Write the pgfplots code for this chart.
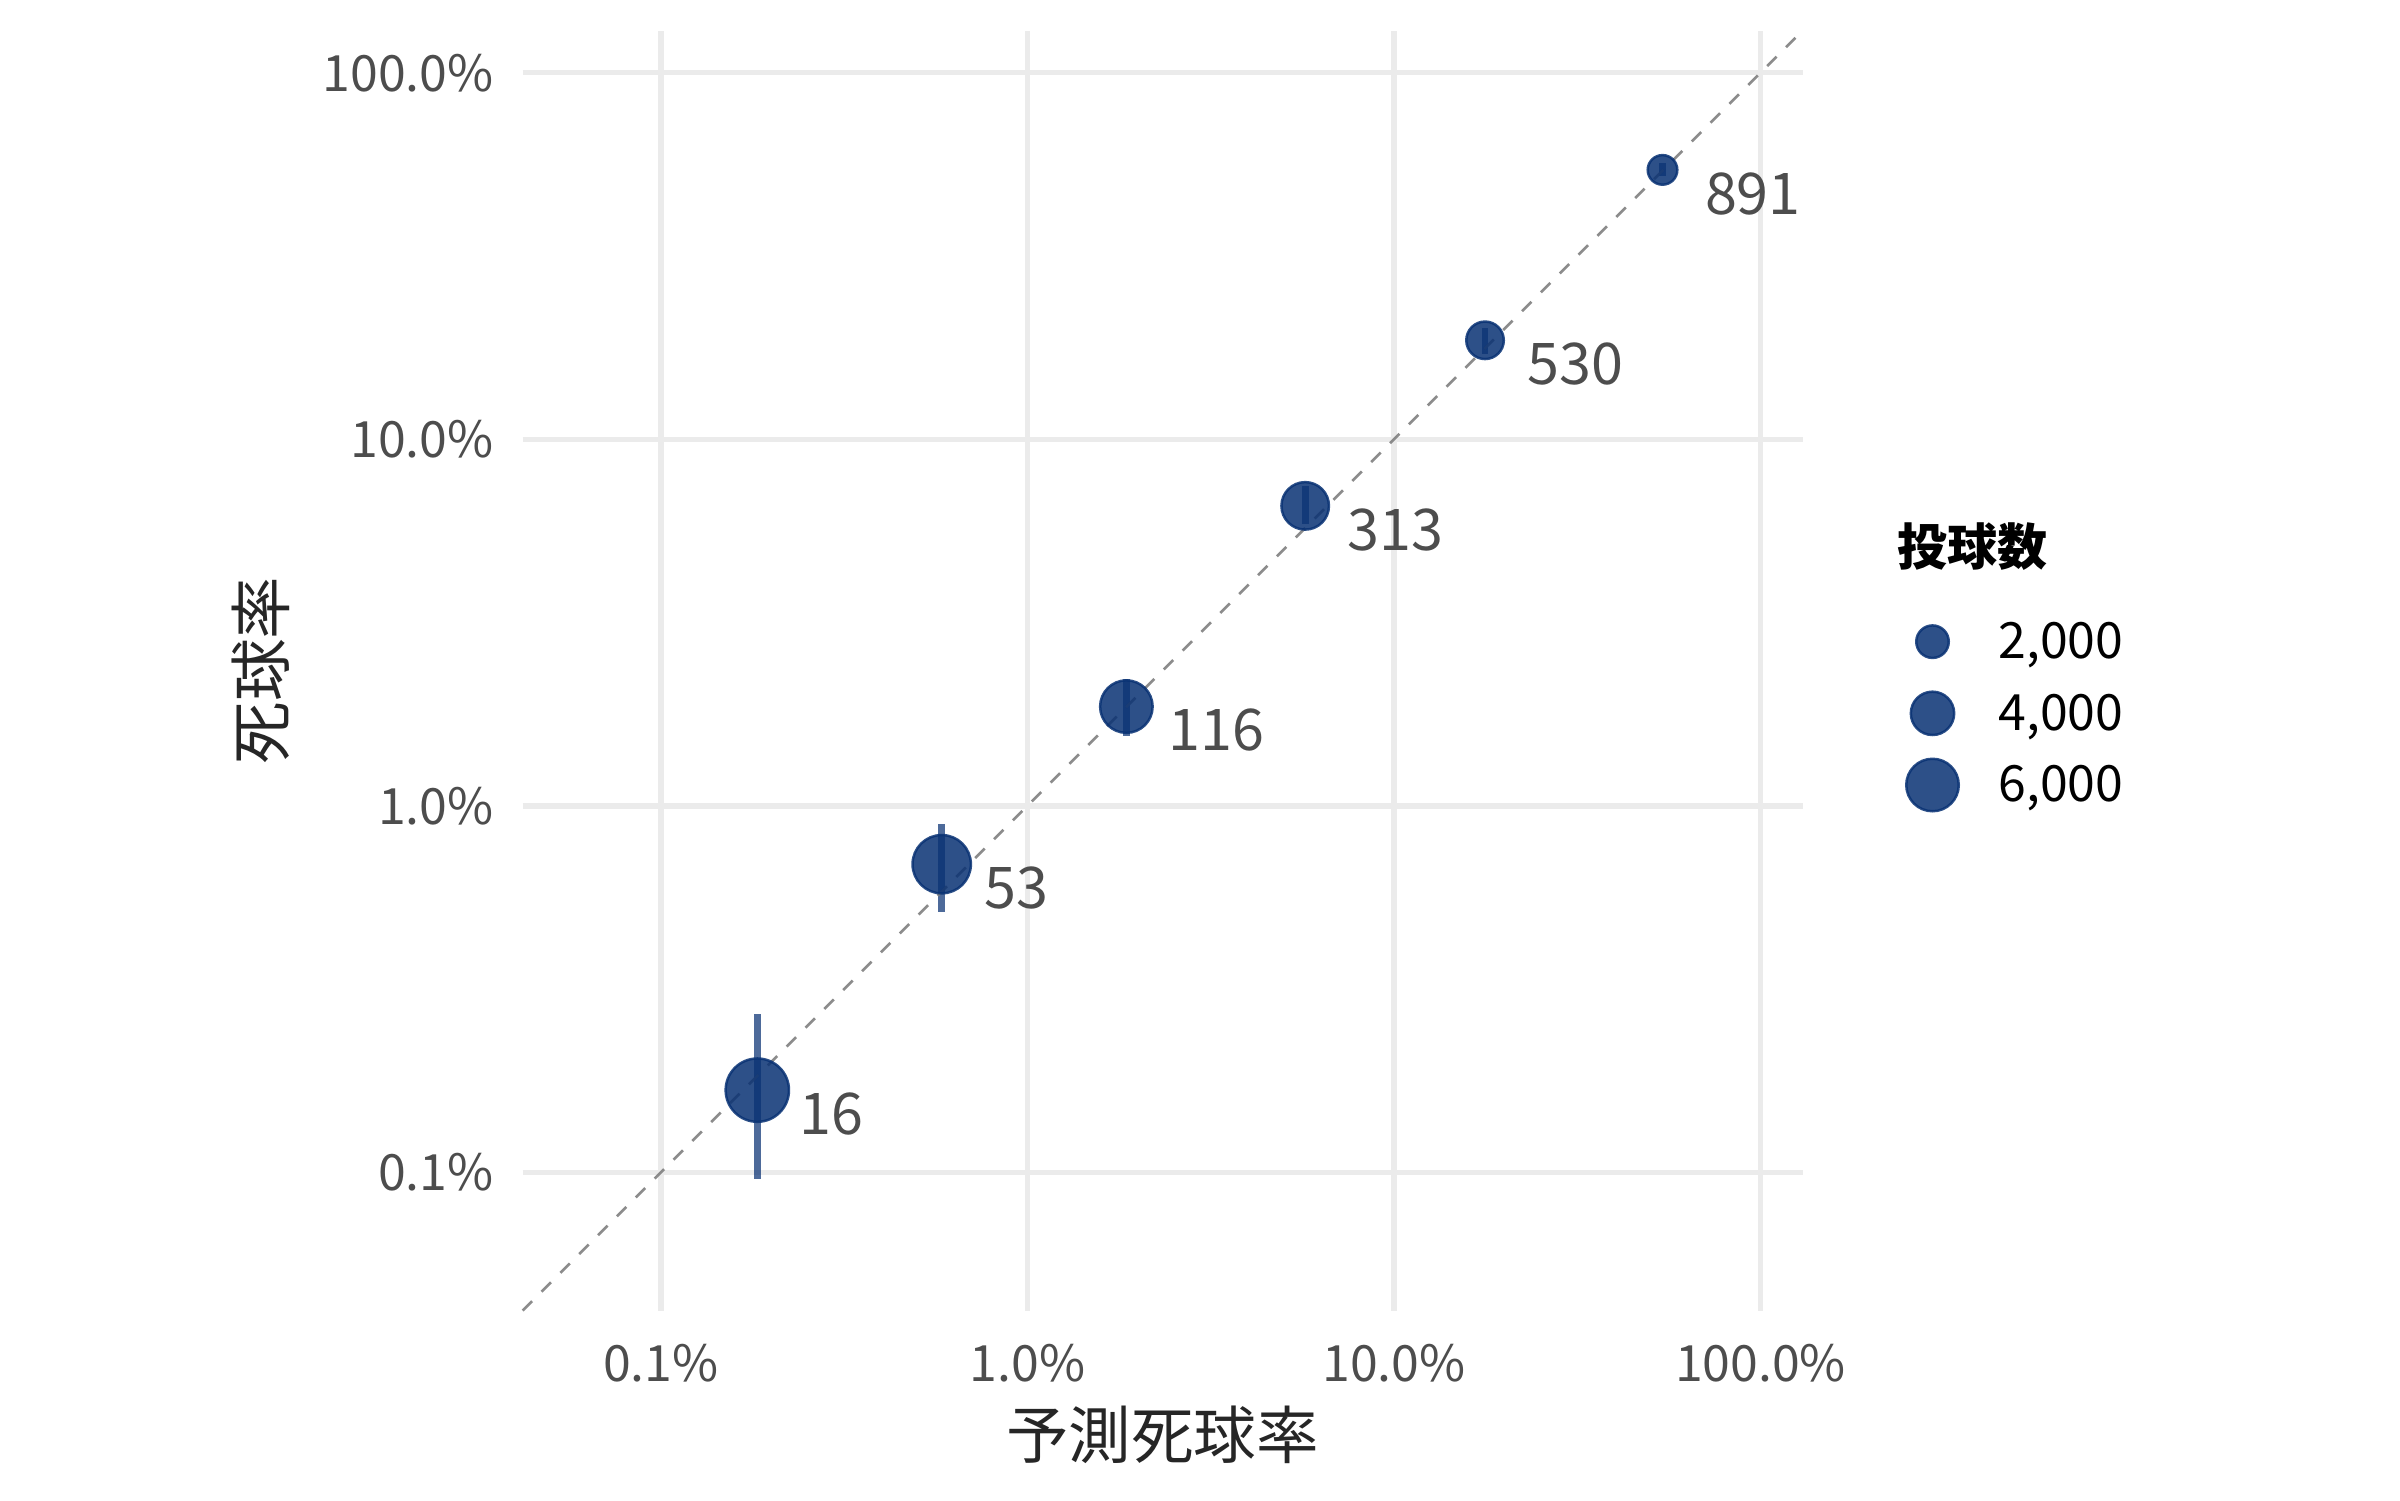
\documentclass[border=0pt]{standalone}
\usepackage{fontspec}
\setmainfont{Noto Sans CJK JP}
\usepackage{pgfplots}
\pgfplotsset{compat=1.18}
\usepackage{pgfplotstable}
\definecolor{ptcol}{HTML}{083173}
\definecolor{gridcol}{HTML}{EBEBEB}
\definecolor{tickcol}{HTML}{4D4D4D}
\definecolor{titlecol}{HTML}{262626}
\definecolor{refcol}{HTML}{808080}

\pgfplotstableread{
lab x y ep em r
16 0.001833 0.001677 0.001036 0.000718 7.6
53 0.005837 0.006934 0.002013 0.001789 7.0
116 0.01862 0.01866 0.00352 0.00314 6.3
313 0.05726 0.06584 0.00896 0.00694 5.7
530 0.1772 0.1863 0.0151 0.0156 4.5
891 0.5403 0.5433 0.0251 0.0209 3.55
}\pts

\pgfplotstableread{
x y r lab
0.5 2 3.9 2,000
0.5 1 5.2 4,000
0.5 0 6.3 6,000
}\leg

\begin{document}
\begin{tikzpicture}
\path[use as bounding box] (0,0) rectangle (576pt,360pt);
\begin{axis}[
  at={(125.45pt,45.46pt)}, anchor=south west,
  scale only axis, width=307.2pt, height=307.2pt,
  xmode=log, ymode=log,
  xmin=4.198e-4, xmax=1.3032, ymin=4.198e-4, ymax=1.3032,
  xtick={0.001,0.01,0.1,1}, ytick={0.001,0.01,0.1,1},
  xticklabels={0.1\%,1.0\%,10.0\%,100.0\%},
  yticklabels={0.1\%,1.0\%,10.0\%,100.0\%},
  xminorticks=false, yminorticks=false,
  axis line style={draw=none},
  major tick length=0pt,
  grid=major, major grid style={gridcol, line width=1.3pt},
  tick label style={font=\fontsize{12}{14}\selectfont, text=tickcol, inner sep=0pt},
  xticklabel style={anchor=north, yshift=-7.8pt},
  yticklabel style={anchor=east, xshift=-6.8pt},
  xlabel={予測死球率}, ylabel={死球率},
  label style={font=\fontsize{15}{18}\selectfont, text=titlecol, inner sep=0pt},
  xlabel style={at={(axis description cs:0.5,-0.0736)}, anchor=north},
  ylabel style={at={(axis description cs:-0.2044,0.5)}, anchor=center},
  clip=false,
]
% error bars
\addplot[draw=none, mark=none, forget plot,
  error bars/.cd, y dir=both, y explicit, error mark=none,
  error bar style={line width=1.6pt, draw=ptcol, draw opacity=0.72}]
  table[x=x, y=y, y error plus=ep, y error minus=em]{\pts};
% points
\addplot[scatter, only marks, mark=*,
  scatter/use mapped color={draw=ptcol, fill=ptcol},
  mark options={line width=0.6pt, fill opacity=0.85, draw opacity=0.85},
  visualization depends on={\thisrow{r}\as\rad},
  scatter/@pre marker code/.append style={/tikz/mark size=\rad}]
  table[x=x, y=y]{\pts};
% reference line y = x
\addplot[refcol, dash pattern=on 3.2pt off 3.2pt, line width=0.65pt, opacity=0.9]
  coordinates {(4.198e-4,4.198e-4) (1.3032,1.3032)};
% labels
\addplot[draw=none, mark=none, nodes near coords, point meta=explicit symbolic,
  nodes near coords style={anchor=base west, xshift=10pt, yshift=-10.6pt,
    font=\fontsize{13.8}{16}\selectfont, text=tickcol, inner sep=0pt}]
  table[x=x, y=y, meta=lab]{\pts};
\end{axis}

% legend (size key)
\begin{axis}[
  at={(458.8pt,171.6pt)}, anchor=south west,
  scale only axis, width=10pt, height=34.4pt,
  xmin=0, xmax=1, ymin=0, ymax=2,
  hide axis, clip=false,
]
\addplot[scatter, only marks, mark=*,
  scatter/use mapped color={draw=ptcol, fill=ptcol},
  mark options={line width=0.6pt, fill opacity=0.85, draw opacity=0.85},
  visualization depends on={\thisrow{r}\as\rad},
  scatter/@pre marker code/.append style={/tikz/mark size=\rad}]
  table[x=x, y=y]{\leg};
\addplot[draw=none, mark=none, nodes near coords, point meta=explicit symbolic,
  nodes near coords style={anchor=base west, xshift=15.6pt, yshift=-4pt,
    font=\fontsize{12}{14}\selectfont, text=black, inner sep=0pt}]
  table[x=x, y=y, meta=lab]{\leg};
\end{axis}
\node[anchor=base west, inner sep=0pt, font=\fontsize{12}{14}\selectfont\bfseries] at (455.1pt,224.2pt) {投球数};
\end{tikzpicture}
\end{document}
